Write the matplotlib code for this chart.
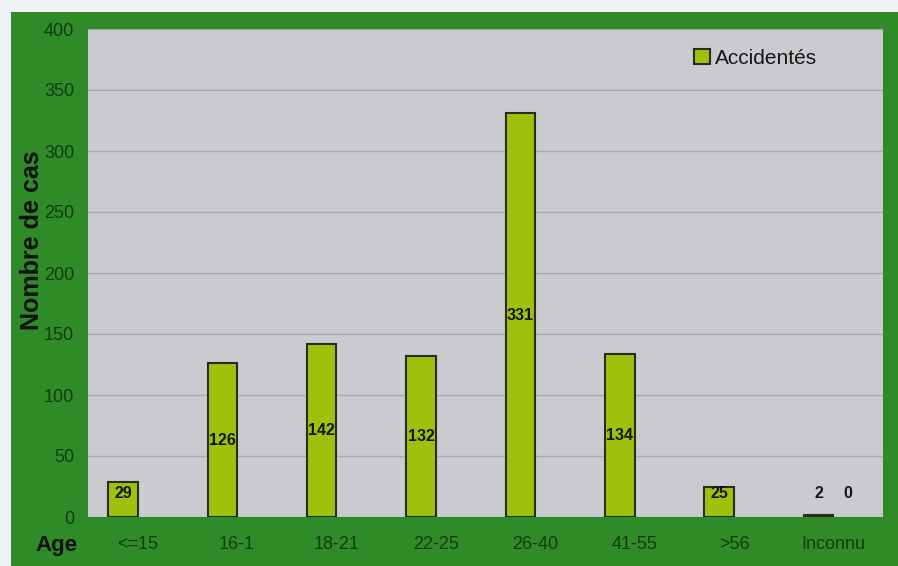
import numpy as np
import matplotlib
matplotlib.use("Agg")
import matplotlib.pyplot as plt
from matplotlib.patches import Rectangle

plt.rcParams['font.family'] = ['Liberation Sans', 'DejaVu Sans']

categories = ['<=15', '16-1', '18-21', '22-25', '26-40', '41-55', '>56', 'Inconnu']
accidentes = [29, 126, 142, 132, 331, 134, 25, 2]
autres = [np.nan, np.nan, np.nan, np.nan, np.nan, np.nan, np.nan, 0]
yticks = [0, 50, 100, 150, 200, 250, 300, 350, 400]

W, H = 898, 566
fig = plt.figure(figsize=(W / 100, H / 100), dpi=100)
fig.patch.set_facecolor('#eef2f6')

green = '#2f8a28'
fig.patches.append(Rectangle((11 / W, 0), 1 - 11 / W, (H - 12) / H,
                             transform=fig.transFigure, facecolor=green,
                             edgecolor='none', zorder=-5))

ax = fig.add_axes([88 / W, (H - 517) / H, (883 - 88) / W, (517 - 29) / H])
ax.set_zorder(1)
ax.set_facecolor('#c9cbce')

x = np.arange(len(categories))
bw = 0.297
off = 0.148
bars1 = ax.bar(x - off, accidentes, bw, color='#9ec20c', edgecolor='#2a2a1e',
               linewidth=1.5, label='Accidentés', zorder=3)
vals2 = np.nan_to_num(np.array(autres, dtype=float))
bars2 = ax.bar(x + off, vals2, bw, color='#9ec20c', edgecolor='none',
               linewidth=0, zorder=3)

for xi, v in zip(x, accidentes):
    ax.text(xi - off, max(v / 2, 19), str(v), ha='center', va='center',
            fontsize=11.5, fontweight='bold', color='#151515', zorder=4)
for xi, v in zip(x, autres):
    if not np.isnan(v):
        ax.text(xi + off, max(v / 2, 19), str(int(v)), ha='center', va='center',
                fontsize=11.5, fontweight='bold', color='#151515', zorder=4)

ax.set_xlim(-0.5, len(categories) - 0.5)
ax.set_ylim(0, 400)
ax.set_yticks(yticks)
ax.set_yticklabels([str(t) for t in yticks])
ax.set_xticks(x)
ax.set_xticklabels(categories)
ax.yaxis.grid(True, color='#a9abaf', linewidth=1.0, zorder=1)
ax.set_axisbelow(True)
for s in ax.spines.values():
    s.set_visible(False)
ax.tick_params(axis='both', length=0, labelsize=13, labelcolor='#123d12')
ax.tick_params(axis='y', pad=10)
ax.tick_params(axis='x', pad=14)

fig.text(32 / W, 1 - 240 / H, 'Nombre de cas', rotation=90, ha='center', va='center',
         fontsize=18, fontweight='bold', color='#111111', zorder=2)
fig.text(56 / W, 1 - 546 / H, 'Age', ha='center', va='center',
         fontsize=16, fontweight='bold', color='#111111', zorder=2)

leg = fig.legend(handles=[bars1], labels=['Accidentés'], loc='center left',
                 bbox_to_anchor=(694 / W, 1 - 58 / H), frameon=False,
                 fontsize=15, handlelength=0.75, handleheight=0.75,
                 handletextpad=0.25, borderpad=0, borderaxespad=0)
leg.set_zorder(5)
for t in leg.get_texts():
    t.set_color('#151515')

fig.savefig('out.png', dpi=100, facecolor=fig.get_facecolor())
